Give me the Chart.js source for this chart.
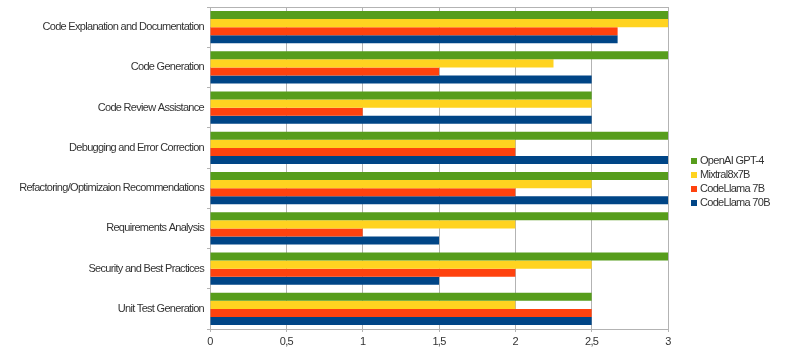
<!DOCTYPE html>
<html>
<head>
<meta charset="utf-8">
<script src="https://cdn.jsdelivr.net/npm/chart.js@4/dist/chart.umd.min.js"></script>
<style>
html,body{margin:0;padding:0;background:#fff;}
#wrap{width:800px;height:352px;position:relative;}
</style>
</head>
<body>
<div id="wrap"><canvas id="c" width="800" height="352"></canvas></div>
<script>
const categories = [
  "Code Explanation and Documentation",
  "Code Generation",
  "Code Review Assistance",
  "Debugging and Error Correction",
  "Refactoring/Optimizaion Recommendations",
  "Requirements Analysis",
  "Security and Best Practices",
  "Unit Test Generation"
];
const seriesNames = ["OpenAI GPT-4", "Mixtral8x7B", "CodeLlama 7B", "CodeLlama 70B"];
const gpt4 =       [3, 3, 2.5, 3, 3, 3, 3, 2.5];
const mixtral =    [3, 2.25, 2.5, 2, 2.5, 2, 2.5, 2];
const codellama7 = [2.67, 1.5, 1, 2, 2, 1, 2, 2.5];
const codellama70 =[2.67, 2.5, 2.5, 3, 3, 1.5, 1.5, 2.5];
const xTicks = [0, 0.5, 1, 1.5, 2, 2.5, 3];
const colors = ["#579d1c", "#ffd320", "#ff420e", "#004586"];

const FONT = "'Liberation Sans', Arial, sans-serif";
const SPACING = '-0.7px';

const spacingPlugin = {
  id: 'spacing',
  beforeLayout(chart) { chart.ctx.letterSpacing = SPACING; },
  beforeDraw(chart) { chart.ctx.letterSpacing = SPACING; }
};

const legendPlugin = {
  id: 'customLegend',
  afterDraw(chart) {
    const ctx = chart.ctx;
    ctx.save();
    ctx.letterSpacing = SPACING;
    ctx.font = "11px " + FONT;
    ctx.textBaseline = 'middle';
    ctx.textAlign = 'left';
    chart.data.datasets.forEach((ds, i) => {
      const y = 161 + i * 14;
      ctx.fillStyle = ds.backgroundColor;
      ctx.fillRect(691, y - 3, 6, 6);
      ctx.fillStyle = '#333';
      ctx.fillText(ds.label, 700, y);
    });
    ctx.restore();
  }
};

const framePlugin = {
  id: 'frame',
  afterDatasetsDraw(chart) {
    const a = chart.chartArea, ctx = chart.ctx;
    ctx.save();
    ctx.strokeStyle = '#b3b3b3';
    ctx.lineWidth = 1;
    ctx.beginPath();
    ctx.moveTo(a.left, Math.round(a.top) + 0.5);
    ctx.lineTo(a.right, Math.round(a.top) + 0.5);
    ctx.stroke();
    ctx.restore();
  }
};

const data = {
  labels: categories,
  datasets: [gpt4, mixtral, codellama7, codellama70].map((d, i) => ({
    label: seriesNames[i],
    data: d,
    backgroundColor: colors[i],
    borderWidth: 0,
    categoryPercentage: 0.8,
    barPercentage: 1.0
  }))
};

new Chart(document.getElementById('c'), {
  type: 'bar',
  data,
  options: {
    indexAxis: 'y',
    responsive: false,
    animation: false,
    devicePixelRatio: 1,
    layout: { padding: { top: 7, right: 132, left: 0, bottom: 0 } },
    plugins: { legend: { display: false }, tooltip: { enabled: false } },
    scales: {
      x: {
        min: 0, max: 3,
        afterBuildTicks(scale) { scale.ticks = xTicks.map(v => ({ value: v })); },
        afterFit(scale) { scale.height = 23; scale.paddingLeft = 0; scale.paddingRight = 0; },
        ticks: {
          color: '#333',
          font: { family: FONT, size: 11 },
          padding: 3,
          callback: v => String(v).replace('.', ',')
        },
        grid: { color: '#b3b3b3', lineWidth: 1, drawTicks: true, tickLength: 3 },
        border: { display: true, color: '#b3b3b3' }
      },
      y: {
        afterFit(scale) { scale.width = 210; scale.paddingTop = 0; scale.paddingBottom = 0; },
        ticks: { color: '#333', font: { family: FONT, size: 11 }, padding: 3 },
        grid: { offset: true, drawOnChartArea: false, drawTicks: true, tickLength: 3, color: '#b3b3b3' },
        border: { display: true, color: '#b3b3b3' }
      }
    }
  },
  plugins: [spacingPlugin, legendPlugin, framePlugin]
});
</script>
</body>
</html>
